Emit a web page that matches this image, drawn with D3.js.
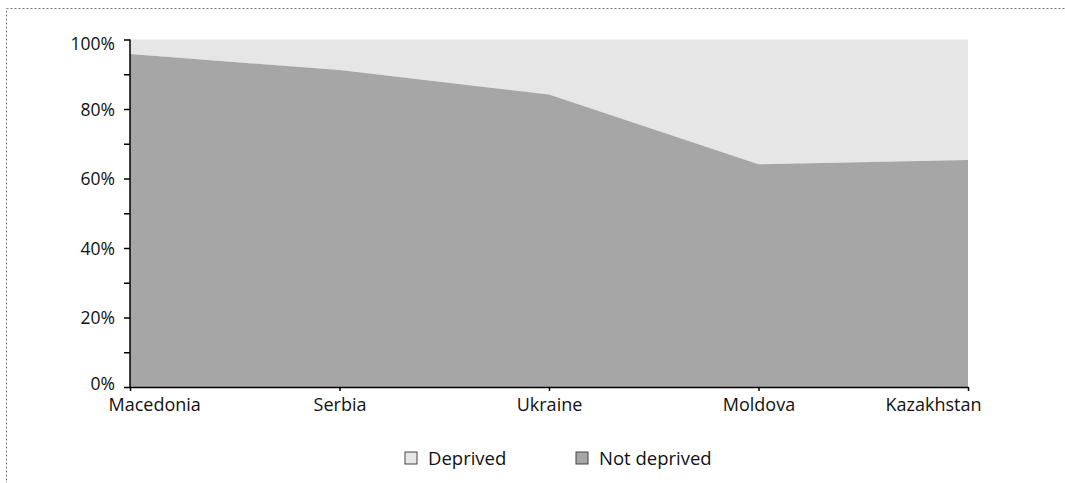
<html>
<head>
<script src="https://d3js.org/d3.v7.min.js"></script>
<style>
  body { margin: 0; background: white; }
  text { font-family: "Open Sans", sans-serif; fill: #111; }
</style>
</head>
<body>
<svg id="chart" width="1065" height="483"></svg>
<script>
const countries = ["Macedonia", "Serbia", "Ukraine", "Moldova", "Kazakhstan"];
const notDeprived = [95.8, 91.2, 84.2, 64.1, 65.3];
const deprived = notDeprived.map(v => 100 - v);
const seriesNames = ["Deprived", "Not deprived"];
const seriesColors = ["#e6e6e6", "#a6a6a6"];
const yTicks = [0, 10, 20, 30, 40, 50, 60, 70, 80, 90, 100];

const svg = d3.select("#chart");
const fontFam = "'Open Sans', sans-serif";

// dotted frame
svg.append("rect")
  .attr("x", 6.5).attr("y", 8.5)
  .attr("width", 1100).attr("height", 600)
  .attr("fill", "none")
  .attr("stroke", "#777")
  .attr("stroke-dasharray", "2,2");

const xs = d3.scalePoint().domain(countries).range([130, 968]);
const ys = d3.scaleLinear().domain([0, 100]).range([387, 39.5]);

// stacked: not deprived at bottom, deprived on top
const table = countries.map((c, i) => ({ country: c, nd: notDeprived[i], d: deprived[i] }));

const areaTop = d3.area()
  .x(d => xs(d.country))
  .y0(d => ys(d.nd))
  .y1(d => ys(d.nd + d.d));
const areaBottom = d3.area()
  .x(d => xs(d.country))
  .y0(ys(0))
  .y1(d => ys(d.nd));

svg.append("path").datum(table).attr("d", areaTop).attr("fill", seriesColors[0]);
svg.append("path").datum(table).attr("d", areaBottom).attr("fill", seriesColors[1]);

// Y axis
const yAxis = svg.append("g")
  .attr("transform", "translate(130,0)")
  .call(d3.axisLeft(ys).tickValues(yTicks).tickSize(6)
    .tickFormat(d => d % 20 === 0 ? d + "%" : ""));
yAxis.select(".domain").attr("stroke", "#000").attr("stroke-width", 1.5).attr("d", "M0," + ys(100) + "V" + ys(0));
yAxis.selectAll(".tick line").attr("stroke", "#000").attr("stroke-width", 1.5);
yAxis.selectAll("text").attr("font-size", 17.5).attr("font-family", fontFam).attr("fill", "#111")
  .attr("x", -15).attr("dx", 0)
  .attr("dy", d => d === 100 ? "0.55em" : d === 0 ? "0.17em" : "0.35em");

// X axis
const xAxis = svg.append("g")
  .attr("transform", "translate(0," + ys(0) + ")")
  .call(d3.axisBottom(xs).tickSize(4).tickSizeOuter(0));
xAxis.select(".domain").attr("stroke", "#000").attr("stroke-width", 1.5);
xAxis.selectAll(".tick line").attr("stroke", "#000").attr("stroke-width", 1.5);
xAxis.selectAll("text").attr("font-size", 18).attr("font-family", fontFam).attr("fill", "#111")
  .attr("y", 0).attr("dy", 24);
// keep edge labels inside the frame
xAxis.selectAll(".tick").each(function(d, i) {
  const t = d3.select(this).select("text");
  if (i === 0) t.attr("text-anchor", "start").attr("x", -22);
  if (i === countries.length - 1) t.attr("text-anchor", "end").attr("x", 13);
});

// legend
const legendX = [405, 576];
seriesNames.forEach((name, i) => {
  const g = svg.append("g").attr("transform", "translate(" + legendX[i] + ",452)");
  g.append("rect").attr("width", 12).attr("height", 12)
    .attr("fill", seriesColors[i]).attr("stroke", "#444").attr("stroke-width", 1);
  g.append("text").attr("x", 23).attr("y", 13).attr("font-size", 18.5)
    .attr("font-family", fontFam).text(name);
});
</script>
</body>
</html>
